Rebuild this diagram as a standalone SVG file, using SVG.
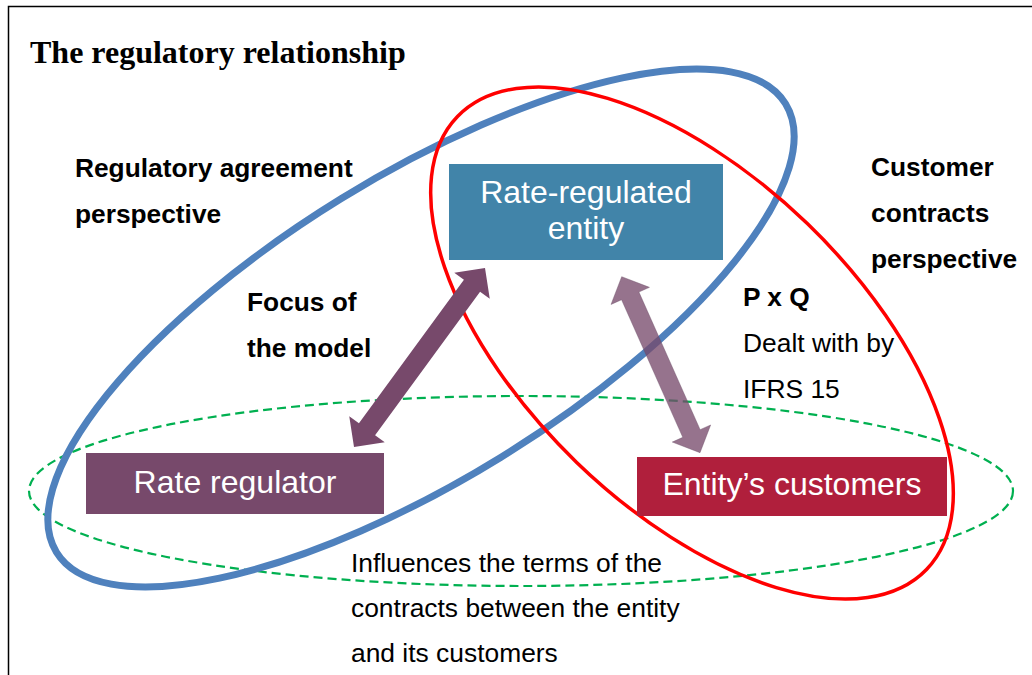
<svg xmlns="http://www.w3.org/2000/svg" width="1032" height="675" viewBox="0 0 1032 675">
  <style>
    .sans { font-family: "Liberation Sans", Arial, sans-serif; fill: #000; }
    .bold { font-weight: bold; font-size: 26.3px; }
    .reg { font-size: 26.4px; }
    .box-text { font-family: "Liberation Sans", Arial, sans-serif; font-size: 32px; fill: #fff; text-anchor: middle; }
    .title { font-family: "Liberation Serif", "Times New Roman", serif; font-weight: bold; font-size: 32px; fill: #000; }
    .arrow-dark { fill: #77496B; }
    .arrow-light { fill: #77496B; fill-opacity: 0.77; stroke: #6a4a64; stroke-opacity: 0.5; stroke-width: 0.8; }
  </style>

  <rect x="0" y="0" width="1032" height="675" fill="#fff"/>
  <path d="M8.5,675 V6.5 H1032" fill="none" stroke="#000" stroke-width="1.5"/>

  <text class="title" x="30" y="63">The regulatory relationship</text>

  <g id="perspectives">
    <ellipse id="green-scope" cx="521" cy="491" rx="492" ry="95" fill="none" stroke="#00B050" stroke-width="2.2" stroke-dasharray="9 5"/>
    <ellipse id="regulatory-scope" cx="0" cy="0" rx="428" ry="152" fill="none" stroke="#4F81BD" stroke-width="7" transform="translate(421 328) rotate(-31.6)"/>
    <ellipse id="customer-scope" cx="0" cy="0" rx="326" ry="166" fill="none" stroke="#FF0000" stroke-width="3.5" transform="translate(692 343) rotate(44)"/>
  </g>

  <g id="node-entity">
    <rect x="449" y="164" width="274" height="96" fill="#4184A9"/>
    <text class="box-text" x="586" y="203">Rate-regulated</text>
    <text class="box-text" x="586" y="239">entity</text>
  </g>

  <g id="node-regulator">
    <rect x="86" y="453" width="298" height="61" fill="#77496B"/>
    <text class="box-text" x="235" y="493">Rate regulator</text>
  </g>

  <g id="node-customers">
    <rect x="637" y="457" width="310" height="59" fill="#B01F3C"/>
    <text class="box-text" x="792" y="495">Entity’s customers</text>
  </g>

  <g id="connectors">
    <polygon class="arrow-dark" points="485,268 489.75,298.75 480.07,291.66 375.07,435.16 384.75,442.25 354,447 349.25,416.25 358.93,423.34 463.93,279.84 454.25,272.75"/>
    <polygon class="arrow-light" points="621.7,276.7 649.43,287.35 638.92,292.03 700.14,429.65 710.65,424.97 700,452.7 672.27,442.05 682.78,437.37 621.56,299.75 611.05,304.43"/>
  </g>

  <g id="labels">
    <text class="sans bold" x="75" y="177">Regulatory agreement</text>
    <text class="sans bold" x="75" y="223">perspective</text>

    <text class="sans bold" x="871" y="176">Customer</text>
    <text class="sans bold" x="871" y="222">contracts</text>
    <text class="sans bold" x="871" y="268">perspective</text>

    <text class="sans bold" x="247" y="311">Focus of</text>
    <text class="sans bold" x="247" y="357">the model</text>

    <text class="sans bold" x="743" y="306">P x Q</text>
    <text class="sans reg" x="743" y="352">Dealt with by</text>
    <text class="sans reg" x="743" y="398">IFRS 15</text>

    <text class="sans reg" x="351" y="572">Influences the terms of the</text>
    <text class="sans reg" x="351" y="617">contracts between the entity</text>
    <text class="sans reg" x="351" y="662">and its customers</text>
  </g>
</svg>
